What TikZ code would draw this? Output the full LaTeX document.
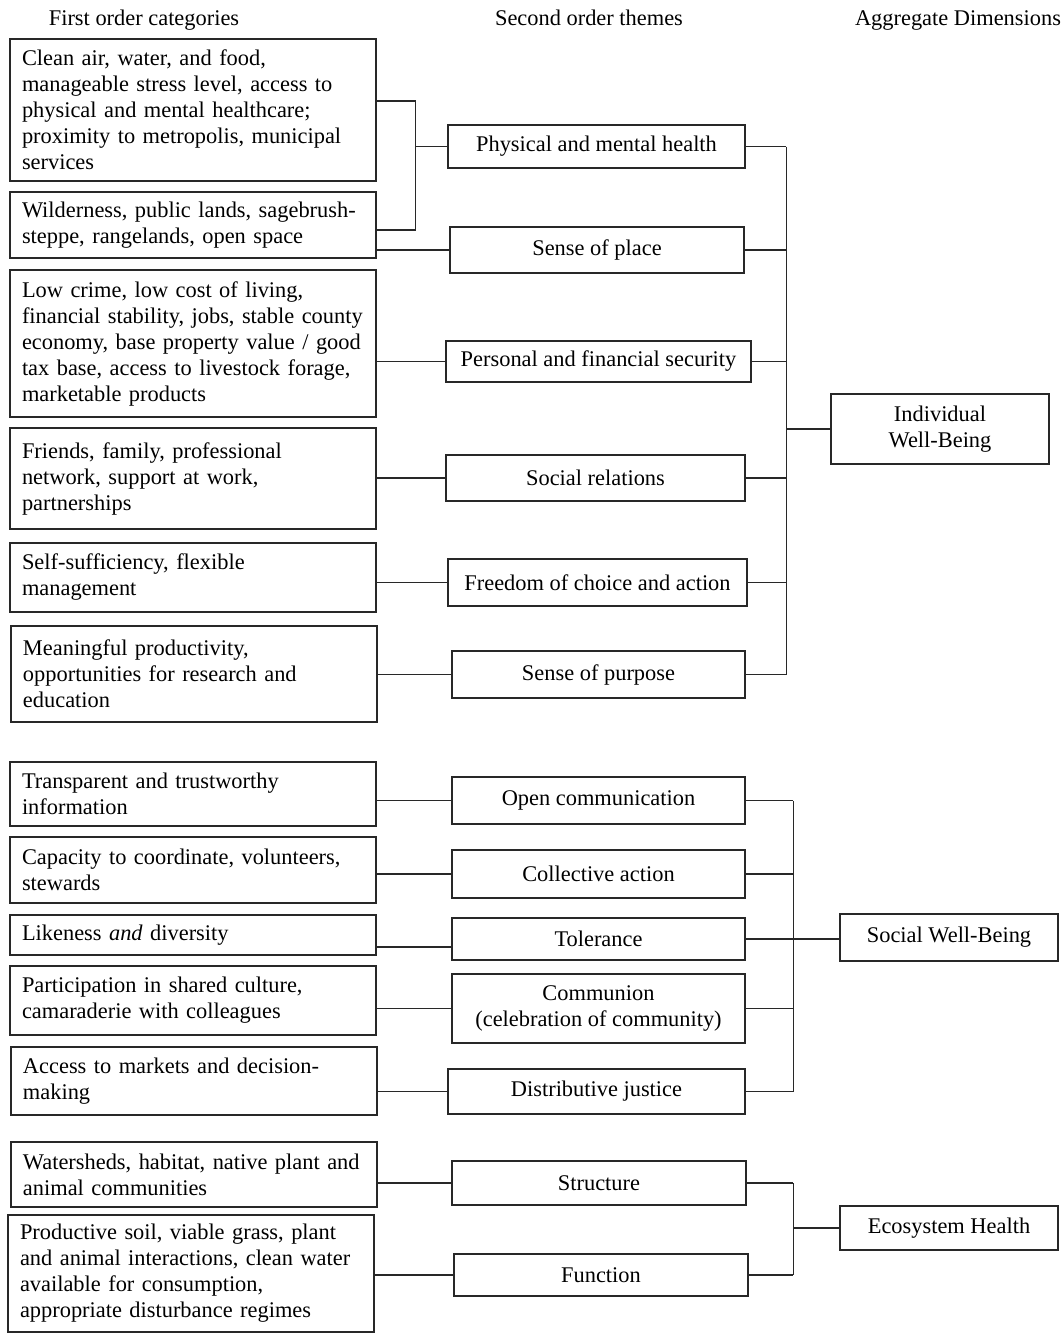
\documentclass[tikz,border=0pt]{standalone}
\usepackage{fontspec}
\setmainfont{Liberation Serif}
\usetikzlibrary{calc}
\definecolor{boxLineColor}{RGB}{40,40,40}
\tikzset{
	category/.style = {
		draw = boxLineColor, line width = 1.3pt, align = left,
		text width = 342pt, inner xsep = 12pt, inner ysep = 0pt
	},
	theme/.style = {
		draw = boxLineColor, line width = 1.3pt, align = center,
		inner sep = 0pt
	},
	dimension/.style = {
		draw = boxLineColor, line width = 1.3pt, align = center,
		inner sep = 0pt, minimum width = 218pt
	},
	heading/.style = {
		inner sep = 0pt, anchor = base
	},
	link/.style = {
		line width = 1.3pt, draw = boxLineColor
	}
}

\begin{document}
\begin{tikzpicture}[x=1pt, y=-1pt, font=\fontsize{22.4}{26}\selectfont]
	\useasboundingbox (0,0) rectangle (1062,1342);

	% column heads
	\node [heading] (headFirst) at (144,25) {First order categories};
	\node [heading] (headSecond) at (589,25) {Second order themes};
	\node [heading] (headAggr) at (958,25) {Aggregate Dimensions};

	% first order categories
	\node [category, minimum height=142pt] (L1) at (193,110) {Clean air, water, and food,\\manageable stress level, access to\\physical and mental healthcare;\\proximity to metropolis, municipal\\services};
	\node [category, minimum height=66pt] (L2) at (193,225) {Wilderness, public lands, sagebrush-\\steppe, rangelands, open space};
	\node [category, minimum height=147pt] (L3) at (193,343.5) {Low crime, low cost of living,\\financial stability, jobs, stable county\\economy, base property value / good\\tax base, access to livestock forage,\\marketable products};
	\node [category, minimum height=101pt] (L4) at (193,478.5) {Friends, family, professional\\network, support at work,\\partnerships};
	\node [category, minimum height=69pt] (L5) at (193,577.5) {Self-sufficiency, flexible\\management};
	\node [category, minimum height=96pt] (L6) at (194,674) {Meaningful productivity,\\opportunities for research and\\education};
	\node [category, minimum height=64pt] (L7) at (193,794) {Transparent and trustworthy\\information};
	\node [category, minimum height=66pt] (L8) at (193,870) {Capacity to coordinate, volunteers,\\stewards};
	\node [category, minimum height=40pt] (L9) at (193,935) {Likeness \textit{and} diversity};
	\node [category, minimum height=69pt] (L10) at (193,1000.5) {Participation in shared culture,\\camaraderie with colleagues};
	\node [category, minimum height=68pt] (L11) at (194,1081) {Access to markets and decision-\\making};
	\node [category, minimum height=65pt] (L12) at (194,1174.5) {Watersheds, habitat, native plant and\\animal communities};
	\node [category, minimum height=117pt] (L13) at (191,1273.5) {Productive soil, viable grass, plant\\and animal interactions, clean water\\available for consumption,\\appropriate disturbance regimes};

	% second order themes
	\node [theme, minimum width=297pt, minimum height=43pt] (M1) at (596.5,146.5) {Physical and mental health};
	\node [theme, minimum width=294pt, minimum height=46pt] (M2) at (597,250) {Sense of place};
	\node [theme, minimum width=305pt, minimum height=41pt] (M3) at (598.5,361.5) {Personal and financial security};
	\node [theme, minimum width=299pt, minimum height=46pt] (M4) at (595.5,478) {Social relations};
	\node [theme, minimum width=299pt, minimum height=47pt] (M5) at (597.5,582.5) {Freedom of choice and action};
	\node [theme, minimum width=293pt, minimum height=47pt] (M6) at (598.5,674.5) {Sense of purpose};
	\node [theme, minimum width=293pt, minimum height=47pt] (M7) at (598.5,800.5) {Open communication};
	\node [theme, minimum width=293pt, minimum height=48pt] (M8) at (598.5,874) {Collective action};
	\node [theme, minimum width=293pt, minimum height=42pt] (M9) at (598.5,939) {Tolerance};
	\node [theme, minimum width=293pt, minimum height=69pt] (M10) at (598.5,1008.5) {Communion\\(celebration of community)};
	\node [theme, minimum width=297pt, minimum height=45pt] (M11) at (596.5,1091.5) {Distributive justice};
	\node [theme, minimum width=294pt, minimum height=44pt] (M12) at (599,1183) {Structure};
	\node [theme, minimum width=294pt, minimum height=42pt] (M13) at (601,1275) {Function};

	% aggregate dimensions
	\node [dimension, minimum height=70pt] (R1) at (940,429) {Individual\\Well-Being};
	\node [dimension, minimum height=47pt] (R2) at (949,937.5) {Social Well-Being};
	\node [dimension, minimum height=44pt] (R3) at (949,1228) {Ecosystem Health};

	% categories to themes
	\coordinate (physJoin) at ($(M1.west)+(-32,0)$);
	\draw [link] ([yshift=9pt]L1.east) -| (physJoin) |- ([yshift=-5pt]L2.east);
	\draw [link] (physJoin) -- (M1.west);
	\draw [link] (M2.west -| L2.east) -- (M2.west);
	\draw [link] (M3.west -| L3.east) -- (M3.west);
	\draw [link] (M4.west -| L4.east) -- (M4.west);
	\draw [link] (M5.west -| L5.east) -- (M5.west);
	\draw [link] (M6.west -| L6.east) -- (M6.west);
	\draw [link] (M7.west -| L7.east) -- (M7.west);
	\draw [link] (M8.west -| L8.east) -- (M8.west);
	\draw [link] ([yshift=-8pt]M9.west -| L9.east) -- ([yshift=-8pt]M9.west);
	\draw [link] (M10.west -| L10.east) -- (M10.west);
	\draw [link] (M11.west -| L11.east) -- (M11.west);
	\draw [link] (M12.west -| L12.east) -- (M12.west);
	\draw [link] (M13.west -| L13.east) -- (M13.west);

	% themes to dimensions
	\coordinate (indivJoin) at ($(R1.west)+(-44,0)$);
	\foreach \m in {M1,M2,M3,M4,M5,M6}
		\draw [link] (\m.east) -- (\m.east -| indivJoin);
	\draw [link] (M1.east -| indivJoin) -- (M6.east -| indivJoin);
	\draw [link] (indivJoin) -- (R1.west);

	\coordinate (socJoin) at ($(R2.west)+(-46,1.5)$);
	\foreach \m in {M7,M8,M9,M10,M11}
		\draw [link] (\m.east) -- (\m.east -| socJoin);
	\draw [link] (M7.east -| socJoin) -- (M11.east -| socJoin);
	\draw [link] (socJoin) -- (socJoin -| R2.west);

	\coordinate (ecoJoin) at ($(R3.west)+(-46,0)$);
	\foreach \m in {M12,M13}
		\draw [link] (\m.east) -- (\m.east -| ecoJoin);
	\draw [link] (M12.east -| ecoJoin) -- (M13.east -| ecoJoin);
	\draw [link] (ecoJoin) -- (R3.west);
\end{tikzpicture}
\end{document}
